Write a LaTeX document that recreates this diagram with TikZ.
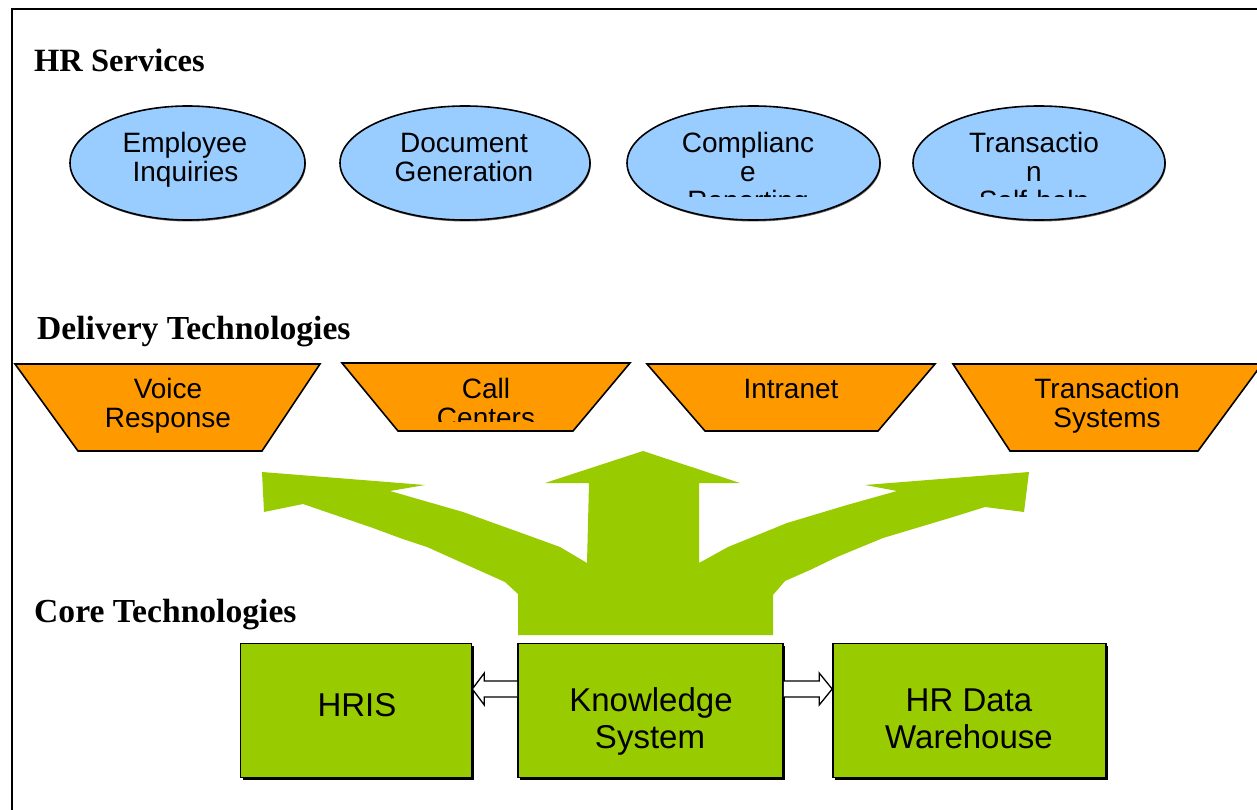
\documentclass[tikz,border=0pt]{standalone}
\usepackage{fontspec}
\setmainfont{Liberation Serif}
\newfontfamily\arialf{Liberation Sans}
\usetikzlibrary{calc,shapes.geometric,shadows}
\definecolor{svcblue}{RGB}{153,204,255}
\definecolor{delorange}{RGB}{255,153,0}
\definecolor{coregreen}{RGB}{153,204,0}
\begin{document}
\begin{tikzpicture}[x=1pt,y=-1pt,
  heading/.style={font=\fontsize{32.5}{34}\selectfont\bfseries, anchor=base west, inner sep=0pt},
  bigheading/.style={heading, font=\fontsize{33.6}{35}\selectfont\bfseries},
  svc/.style={ellipse, draw=black, line width=1.6pt, fill=svcblue, inner sep=0pt, minimum height=114pt,
     drop shadow={shadow xshift=0.8pt, shadow yshift=-1.5pt, opacity=0.6, fill=black}},
  svctext/.style={font=\arialf\fontsize{28}{29}\selectfont, anchor=base, inner sep=0pt},
  deliv/.style={draw=black, line width=1.6pt, fill=delorange, line join=miter},
  deltext/.style={font=\arialf\fontsize{28}{29}\selectfont, anchor=base, inner sep=0pt},
  corebox/.style={rectangle, draw=black, line width=1.6pt, fill=coregreen, inner sep=0pt, minimum height=134pt,
     drop shadow={shadow xshift=2pt, shadow yshift=-2pt, opacity=1, fill=black}},
  coretext/.style={font=\arialf\fontsize{33}{38}\selectfont, anchor=base, inner sep=0pt},
  hollow/.style={draw=black, line width=1.3pt, fill=white, line join=miter}
]
\useasboundingbox (0,0) rectangle (1257,810);
\clip (0,0) rectangle (1257,810);
\fill[white] (0,0) rectangle (1257,810);
% outer frame
\draw[line width=2pt] (12,9) rectangle (1300,850);

% headings
\node[heading] (h1) at (34,72) {HR Services};
\node[bigheading] (h2) at (37,339) {Delivery Technologies};
\node[bigheading] (h3) at (34,622) {Core Technologies};

% HR services ellipses
\node[svc, minimum width=235pt] (e1) at (187.5,163) {};
\node[svc, minimum width=250pt] (e2) at (465,163) {};
\node[svc, minimum width=253pt] (e3) at (753.5,163) {};
\node[svc, minimum width=252pt] (e4) at (1039,163) {};

\node[svctext] (e1a) at (185,153) {Employee};
\node[svctext] (e1b) at (185.5,182) {Inquiries};
\node[svctext] (e2a) at (464,153) {Document};
\node[svctext] (e2b) at (464,182) {Generation};
\begin{scope}
  \clip (640,118) rectangle (870,197);
  \node[svctext] (e3a) at (748,153) {Complianc};
  \node[svctext] (e3b) at (748,182) {e};
  \node[svctext] (e3c) at (748,211) {Reporting};
\end{scope}
\begin{scope}
  \clip (925,118) rectangle (1155,197);
  \node[svctext] (e4a) at (1034,153) {Transactio};
  \node[svctext] (e4b) at (1034,182) {n};
  \node[svctext] (e4c) at (1034,211) {Self-help};
\end{scope}

% delivery technologies trapezoids
\draw[deliv] (15,364) -- (320,364) -- (262,451) -- (78,451) -- cycle;
\draw[deliv] (342,363) -- (630,363) -- (573,431) -- (398,431) -- cycle;
\draw[deliv] (647,364) -- (935,364) -- (878,431) -- (705,431) -- cycle;
\draw[deliv] (953,364) -- (1262,364) -- (1198,451) -- (1010,451) -- cycle;

\node[deltext] (d1a) at (168,398) {Voice};
\node[deltext] (d1b) at (168,427) {Response};
\begin{scope}
  \clip (400,370) rectangle (580,421);
  \node[deltext] (d2a) at (486,398) {Call};
  \node[deltext] (d2b) at (486,427) {Centers};
\end{scope}
\node[deltext] (d3a) at (791,398) {Intranet};
\node[deltext] (d4a) at (1107,398) {Transaction};
\node[deltext] (d4b) at (1107,427) {Systems};

% green branching arrow
\fill[coregreen] (518,635) -- (518,594) -- (505,582) -- (427,547) -- (400,538) -- (373,528)
  -- (303,504) -- (264,512) -- (262,472) -- (425,485) -- (390,491) -- (463,512) -- (527,535)
  -- (560,547) -- (587,563) -- (589,483) -- (545,483) -- (643,451) -- (740,483) -- (699,483)
  -- (699,563) -- (728,547) -- (787,523) -- (847,505) -- (897,491) -- (865,485) -- (1029,472)
  -- (1024,512) -- (985,507) -- (953,517) -- (883,538) -- (837,557) -- (810,570) -- (785,581)
  -- (773,595) -- (773,635) -- cycle;

% core technology boxes
\node[corebox, minimum width=231pt] (hris) at (356,710.5) {};
\node[corebox, minimum width=265pt] (ks) at (650.5,710.5) {};
\node[corebox, minimum width=273pt] (hrdw) at (969.5,710.5) {};

\node[coretext] (hrist) at (357,716) {HRIS};
\node[coretext] (ksa) at (651,711) {Knowledge};
\node[coretext] (ksb) at (650,748) {System};
\node[coretext] (hra) at (969,711) {HR Data};
\node[coretext] (hrb) at (969,748) {Warehouse};

% hollow block arrows
\coordinate (lt) at ($(hris.east)+(0,-21.5)$);
\coordinate (ls) at ($(ks.west)+(0,-21.5)$);
\draw[hollow] ($(ls)+(0,-8)$) -- ($(lt)+(12,-8)$) -- ($(lt)+(12,-16)$) -- (lt)
  -- ($(lt)+(12,16)$) -- ($(lt)+(12,8)$) -- ($(ls)+(0,8)$);
\coordinate (rt) at ($(hrdw.west)+(0,-21.5)$);
\coordinate (rs) at ($(ks.east)+(0,-21.5)$);
\draw[hollow] ($(rs)+(0,-8)$) -- ($(rt)+(-13,-8)$) -- ($(rt)+(-13,-16)$) -- (rt)
  -- ($(rt)+(-13,16)$) -- ($(rt)+(-13,8)$) -- ($(rs)+(0,8)$);
\end{tikzpicture}
\end{document}
